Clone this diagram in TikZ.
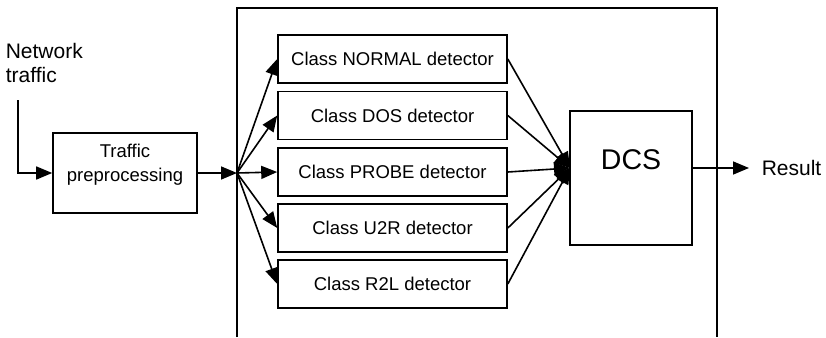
\documentclass[tikz,border=0pt]{standalone}
\usepackage{fontspec}
\setmainfont{Liberation Sans}
\usetikzlibrary{arrows.meta}

\begin{document}
\begin{tikzpicture}[x=1pt,y=-1pt,
    line width=1.6pt,
    flow/.style={-{Triangle[length=16pt,width=13pt]}},
    block/.style={draw, rectangle, inner sep=0pt},
    detbox/.style={block, minimum width=229pt, minimum height=48pt, font=\fontsize{18.5}{20}\selectfont},
    outlabel/.style={font=\fontsize{21}{24}\selectfont, inner sep=0pt}]
  \useasboundingbox (0,0) rectangle (826,337);

  % enclosing frame, open at the bottom
  \draw (237,337) -- (237,8) -- (717,8) -- (717,337);

  % input
  \node[outlabel, anchor=north west, align=left] (net) at (5,42) {Network\\traffic};
  \coordinate (in) at (18,100);

  % preprocessing block
  \node[block, minimum width=144pt, minimum height=80pt] (pre) at (125,173) {};
  \node[font=\fontsize{18.5}{24}\selectfont, align=center, inner sep=0pt] (pretxt) at (125,165) {Traffic\\preprocessing};
  \draw[flow] (in) |- (pre.west);

  % fan-out point on the frame
  \coordinate (fan) at (237,173);
  \draw[flow] (pre.east) -- (fan);

  % detectors
  \node[detbox] (normal) at (392.5,59)  {Class NORMAL detector};
  \node[detbox] (dos)    at (392.5,115.5) {Class DOS detector};
  \node[detbox] (probe)  at (392.5,172) {Class PROBE detector};
  \node[detbox] (u2r)    at (392.5,228) {Class U2R detector};
  \node[detbox] (r2l)    at (392.5,284) {Class R2L detector};

  \foreach \d in {normal,dos,probe,u2r,r2l}
    \draw[flow] (fan) -- (\d.west);

  % decision combination
  \node[block, minimum width=122pt, minimum height=134pt] (dcs) at (631,178) {};
  \node[font=\fontsize{28.5}{30}\selectfont, inner sep=0pt] (dcstxt) at (631,160) {DCS};
  \coordinate (join) at (570,168);
  \foreach \d in {normal,dos,probe,u2r,r2l}
    \draw[flow] (\d.east) -- (join);

  % output
  \coordinate (dcsout) at (692,168);
  \node[outlabel, anchor=west] (res) at (761,168) {Result};
  \draw[flow] (dcsout) -- (749,168) coordinate (restip);
\end{tikzpicture}
\end{document}
